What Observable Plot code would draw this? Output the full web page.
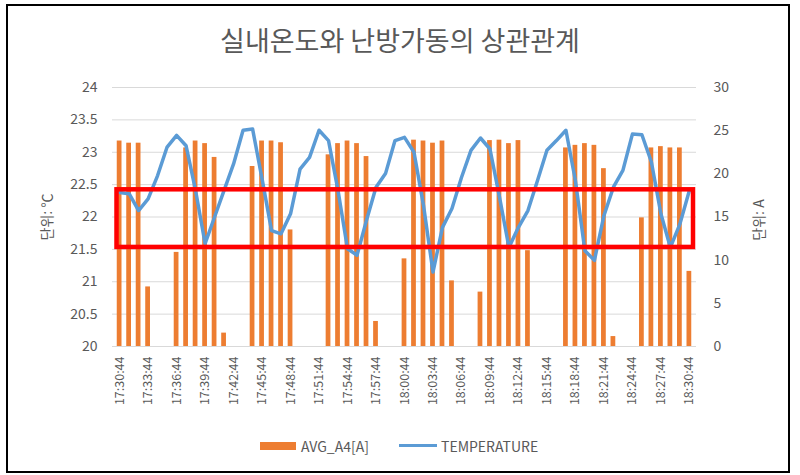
<!DOCTYPE html>
<html>
<head>
<meta charset="utf-8">
<script src="https://cdn.jsdelivr.net/npm/d3@7"></script>
<script src="https://cdn.jsdelivr.net/npm/@observablehq/plot@0.6"></script>
<style>
  body { margin: 0; background: #fff; }
  #wrap { position: relative; width: 800px; height: 475px; font-family: "Noto Sans CJK KR", "Noto Sans", sans-serif; color: #595959; overflow: hidden; }
  #border { position: absolute; left: 6px; top: 4px; width: 784px; height: 469px; border: 2px solid #000; box-sizing: border-box; }
  #title { position: absolute; left: 0; top: 20px; width: 800px; text-align: center; font-size: 27px; line-height: 40px; color: #595959; }
  #chart { position: absolute; left: 0; top: 70px; }
  .ylab { position: absolute; font-size: 14px; white-space: nowrap; transform: translate(-50%, -50%) rotate(-90deg); color: #595959; }
  #legend { position: absolute; top: 434px; left: 0; width: 800px; height: 24px; font-size: 14px; }
  .sw { position: absolute; }
  .lt { position: absolute; line-height: 24px; top: 0; }
</style>
</head>
<body>
<div id="wrap">
  <div id="border"></div>
  <div id="title">실내온도와 난방가동의 상관관계</div>
  <div id="chart"></div>
  <div class="ylab" style="left:46px; top:217px;">단위: ℃</div>
  <div class="ylab" style="left:758px; top:220px;">단위: A</div>
  <div id="legend">
    <div class="sw" style="left:260px; top:8px; width:36px; height:8px; background:#ED7D31;"></div>
    <div class="lt" style="left:301px;">AVG_A4[A]</div>
    <div class="sw" style="left:399px; top:10px; width:38px; height:3px; background:#5B9BD5;"></div>
    <div class="lt" style="left:441px;">TEMPERATURE</div>
  </div>
</div>
<script>
const times = [
  "17:30:44","17:31:44","17:32:44","17:33:44","17:34:44","17:35:44","17:36:44","17:37:44","17:38:44","17:39:44",
  "17:40:44","17:41:44","17:42:44","17:43:44","17:44:44","17:45:44","17:46:44","17:47:44","17:48:44","17:49:44",
  "17:50:44","17:51:44","17:52:44","17:53:44","17:54:44","17:55:44","17:56:44","17:57:44","17:58:44","17:59:44",
  "18:00:44","18:01:44","18:02:44","18:03:44","18:04:44","18:05:44","18:06:44","18:07:44","18:08:44","18:09:44",
  "18:10:44","18:11:44","18:12:44","18:13:44","18:14:44","18:15:44","18:16:44","18:17:44","18:18:44","18:19:44",
  "18:20:44","18:21:44","18:22:44","18:23:44","18:24:44","18:25:44","18:26:44","18:27:44","18:28:44","18:29:44",
  "18:30:44"
];
const avgA4 = [
  23.8, 23.55, 23.55, 6.9, 0, 0, 10.9, 23.0, 23.8, 23.5,
  21.9, 1.55, 0, 0, 20.85, 23.8, 23.8, 23.6, 13.5, 0,
  0, 0, 22.2, 23.5, 23.8, 23.5, 22.0, 2.9, 0, 0,
  10.15, 23.9, 23.8, 23.55, 23.8, 7.6, 0, 0, 6.3, 23.85,
  23.9, 23.5, 23.85, 11.1, 0, 0, 0, 23.0, 23.3, 23.5,
  23.3, 20.6, 1.15, 0, 0, 14.9, 23.0, 23.15, 23.0, 23.0,
  8.7
];
const temperature = [
  22.38, 22.36, 22.10, 22.28, 22.64, 23.08, 23.26, 23.10, 22.41, 21.59,
  22.00, 22.41, 22.82, 23.34, 23.36, 22.59, 21.79, 21.74, 22.05, 22.74,
  22.92, 23.34, 23.18, 22.41, 21.51, 21.41, 21.95, 22.46, 22.67, 23.18,
  23.23, 23.00, 22.18, 21.15, 21.84, 22.13, 22.61, 23.03, 23.22, 23.05,
  22.31, 21.53, 21.84, 22.10, 22.56, 23.03, 23.18, 23.34, 22.56, 21.48,
  21.33, 22.02, 22.46, 22.72, 23.28, 23.27, 22.85, 22.05, 21.53, 21.89,
  22.41
];
const xTickLabels = ["17:30:44","17:33:44","17:36:44","17:39:44","17:42:44","17:45:44","17:48:44","17:51:44","17:54:44","17:57:44","18:00:44","18:03:44","18:06:44","18:09:44","18:12:44","18:15:44","18:18:44","18:21:44","18:24:44","18:27:44","18:30:44"];
const leftTicks = [20, 20.5, 21, 21.5, 22, 22.5, 23, 23.5, 24];
const rightTicks = [0, 5, 10, 15, 20, 25, 30];
const highlightBand = [21.53, 22.42];

// map ampere axis (0–30) onto temperature axis (20–24)
const tMin = 20, tMax = 24, aMax = 30;
const a2t = a => tMin + a * (tMax - tMin) / aMax;
const t2a = t => (t - tMin) * aMax / (tMax - tMin);

const data = times.map((t, i) => ({time: t, amp: avgA4[i], temp: temperature[i]}));

const font = '"Noto Sans CJK KR", "Noto Sans", sans-serif';
const chart = Plot.plot({
  width: 800,
  height: 350,
  marginLeft: 112,
  marginRight: 104,
  marginTop: 17,
  marginBottom: 74,
  style: {fontFamily: font, fontSize: "14px", color: "#595959", background: "transparent"},
  x: {type: "band", domain: times, padding: 0.5},
  y: {domain: [tMin, tMax]},
  marks: [
    Plot.gridY(leftTicks, {stroke: "#d9d9d9", strokeOpacity: 1, strokeWidth: 1}),
    Plot.barY(data.filter(d => d.amp > 0), {x: "time", y1: tMin, y2: d => a2t(d.amp), fill: "#ED7D31"}),
    Plot.line(data, {x: "time", y: "temp", stroke: "#5B9BD5", strokeWidth: 3.5, strokeLinejoin: "round", strokeLinecap: "round"}),
    Plot.rect([highlightBand], {y1: d => d[0], y2: d => d[1], fill: "none", stroke: "#FF0000", strokeWidth: 4.5, insetLeft: 4.5, insetRight: 3}),
    Plot.axisY(leftTicks, {anchor: "left", tickSize: 0, tickPadding: 15, label: null, tickFormat: d => String(d), fill: "#595959", fontSize: 14}),
    Plot.axisY(rightTicks.map(a2t), {anchor: "right", tickSize: 0, tickPadding: 17, label: null, tickFormat: d => String(Math.round(t2a(d))), fill: "#595959", fontSize: 14}),
    Plot.axisX(xTickLabels, {anchor: "bottom", tickSize: 0, tickPadding: 10, tickRotate: -90, label: null, fill: "#595959", fontSize: 12.5}),
    Plot.ruleY([tMin], {stroke: "#d9d9d9"})
  ]
});
document.getElementById("chart").appendChild(chart);
</script>
</body>
</html>
